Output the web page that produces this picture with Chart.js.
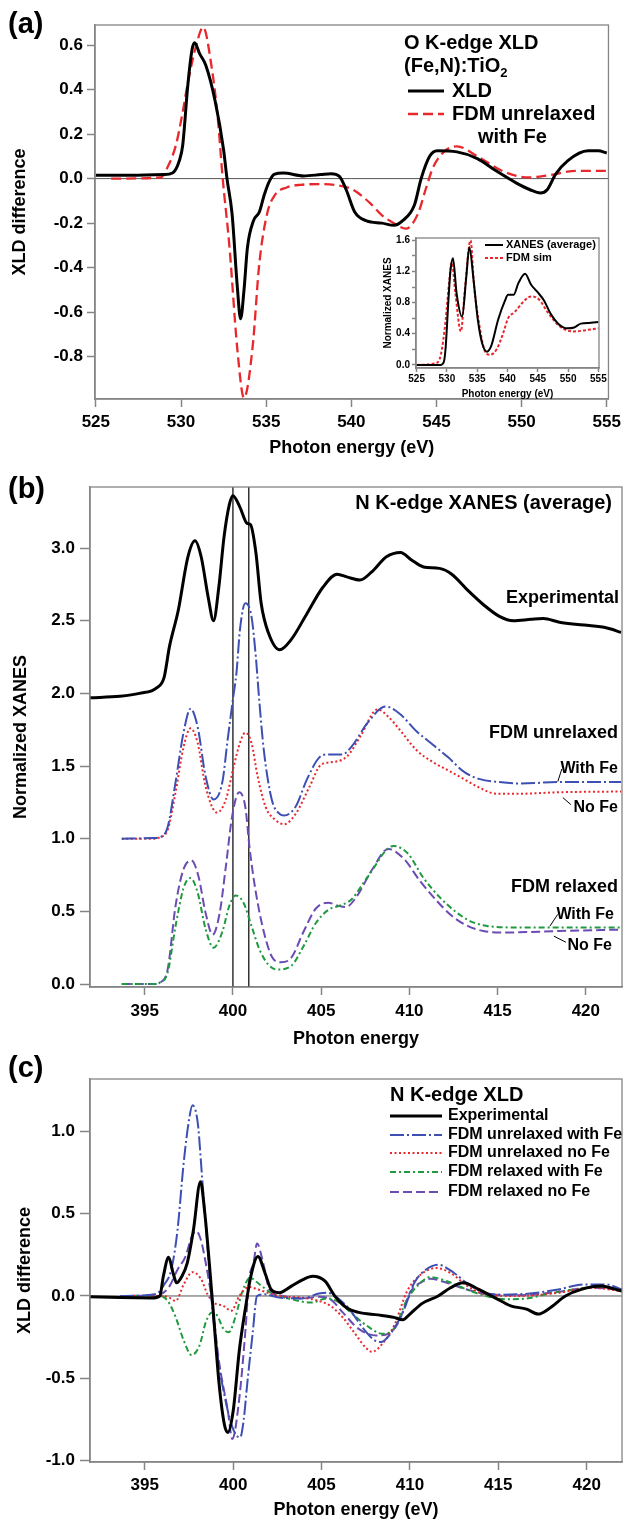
<!DOCTYPE html>
<html><head><meta charset="utf-8">
<script src="https://cdn.jsdelivr.net/npm/chart.js@4.4.1/dist/chart.umd.min.js"></script>
<style>
html,body{margin:0;padding:0;background:#fff;}
body{width:626px;height:1520px;position:relative;overflow:hidden;}
canvas{position:absolute;}
</style></head><body>
<canvas id="ca" width="626" height="465" style="left:0;top:0"></canvas>
<canvas id="ci" width="240" height="175" style="left:370px;top:228px"></canvas>
<canvas id="cb" width="626" height="585" style="left:0;top:465px"></canvas>
<canvas id="cc" width="626" height="470" style="left:0;top:1050px"></canvas>
<script>
// ---------- Panel (a): O K-edge XLD ----------
const aXldEv  = [525.0,527.0,529.0,529.5,529.9,530.1,530.4,530.65,530.8,531.1,531.45,532.0,532.5,532.7,533.0,533.3,533.5,533.7,533.9,534.25,534.6,534.9,535.2,535.5,536.0,537.2,538.2,538.8,539.3,539.7,540.2,540.9,541.8,542.5,543.0,543.7,544.1,544.6,545.05,546.2,547.4,548.5,549.7,550.5,551.1,551.5,552.0,552.7,553.9,554.5,555.0];
const aXldVal = [0.015,0.015,0.018,0.025,0.08,0.15,0.42,0.58,0.61,0.56,0.51,0.35,0.13,0.0,-0.16,-0.48,-0.63,-0.5,-0.31,-0.19,-0.15,-0.07,-0.01,0.02,0.025,0.012,0.018,0.022,0.01,-0.05,-0.15,-0.19,-0.2,-0.21,-0.19,-0.12,0.0,0.1,0.125,0.12,0.09,0.035,-0.02,-0.05,-0.065,-0.05,0.02,0.08,0.125,0.125,0.115];
const aFdmEv  = [525.9,528.8,529.2,529.7,530.1,530.4,530.9,531.3,531.8,532.15,532.45,532.85,533.3,533.7,534.2,534.6,535.05,535.5,536.2,537.0,538.1,539.2,540.1,541.1,541.8,542.5,543.2,543.9,544.4,544.8,545.5,546.2,547.4,549.0,550.4,551.6,553.2,555.0];
const aFdmVal = [0.0,0.005,0.05,0.15,0.3,0.43,0.6,0.68,0.5,0.28,0.0,-0.31,-0.76,-0.985,-0.76,-0.38,-0.16,-0.075,-0.04,-0.028,-0.025,-0.03,-0.05,-0.11,-0.165,-0.2,-0.225,-0.16,-0.04,0.05,0.125,0.145,0.1,0.03,0.005,0.015,0.035,0.035];
// inset: O K-edge XANES
const iXanEv  = [525,529.0,529.5,529.8,530.25,530.6,531.0,531.6,532.5,533.2,533.7,534.4,535.1,535.8,536.6,537.3,538.45,539.6,540.1,541.0,541.8,542.9,543.9,544.9,546.0,547.1,548.5,549.9,551.0,552.1,553.8,555];
const iXanVal = [0,0.0,0.04,0.23,0.83,1.22,1.37,0.92,0.62,1.13,1.51,1.09,0.58,0.28,0.17,0.24,0.58,0.83,0.9,0.9,1.05,1.17,1.03,0.94,0.83,0.66,0.52,0.47,0.48,0.53,0.54,0.55];
const iSimEv  = [525,528.1,529.0,529.8,530.4,530.8,531.4,532.3,533.0,533.9,534.5,535.4,536.2,537.1,538.2,539.3,540.1,541.2,542.6,543.9,545.2,546.6,548.0,549.3,551.0,553.3,555];
const iSimVal = [0,0.02,0.13,0.58,1.09,1.32,0.92,0.43,1.0,1.6,1.0,0.49,0.19,0.13,0.2,0.41,0.6,0.68,0.81,0.88,0.84,0.68,0.54,0.46,0.43,0.45,0.47];

// ---------- Panel (b): N K-edge XANES ----------
const bExpEv  = [391.9,393.6,394.7,395.7,396.1,396.4,396.9,397.45,397.85,398.2,398.6,398.9,399.2,399.5,399.8,400.0,400.4,400.8,401.0,401.3,401.6,402.0,402.65,403.3,404.2,405.1,405.9,406.5,407.2,407.9,408.7,409.5,410.1,410.8,411.7,412.4,413.3,414.2,415.1,415.9,416.9,417.6,418.5,419.9,421.2,422.0];
const bExpVal = [1.97,1.98,2.0,2.04,2.11,2.32,2.57,2.94,3.05,2.94,2.66,2.5,2.73,3.08,3.3,3.36,3.28,3.17,3.16,2.97,2.62,2.42,2.3,2.37,2.55,2.73,2.82,2.8,2.78,2.84,2.94,2.97,2.92,2.87,2.86,2.82,2.71,2.61,2.53,2.5,2.51,2.515,2.49,2.47,2.45,2.42];
const bUnFeEv  = [393.7,395.5,395.85,396.3,396.75,397.2,397.6,398.0,398.45,398.9,399.4,399.7,400.0,400.2,400.4,400.7,401.05,401.3,401.5,401.75,402.2,402.65,402.9,403.55,404.2,404.9,405.4,406.2,406.7,407.65,408.65,409.45,410.4,411.3,412.2,413.1,414.0,415.1,416.3,418.5,422.0];
const bUnFeVal = [1.0,1.005,1.01,1.08,1.39,1.73,1.895,1.77,1.43,1.27,1.39,1.68,1.96,2.14,2.44,2.62,2.53,2.25,1.94,1.61,1.27,1.17,1.16,1.22,1.41,1.56,1.58,1.58,1.63,1.8,1.91,1.86,1.74,1.65,1.56,1.46,1.41,1.39,1.38,1.39,1.39];
const bUnNoEv  = [393.7,395.5,395.85,396.3,396.75,397.2,397.6,398.0,398.45,399.1,399.6,400.05,400.4,400.7,401.05,401.4,401.85,402.4,402.9,403.55,404.35,405.0,405.8,406.5,407.2,408.2,408.8,409.45,410.4,411.3,412.2,413.1,414.0,414.9,416.3,418.5,422.0];
const bUnNoVal = [1.0,1.0,1.01,1.06,1.32,1.63,1.76,1.66,1.36,1.18,1.27,1.5,1.66,1.73,1.66,1.43,1.22,1.13,1.1,1.17,1.36,1.51,1.53,1.57,1.7,1.89,1.84,1.75,1.61,1.53,1.47,1.41,1.35,1.31,1.31,1.32,1.325];
const bReFeEv  = [393.7,395.5,395.85,396.3,396.75,397.2,397.6,398.0,398.45,398.9,399.4,399.8,400.15,400.6,401.05,401.5,402.0,402.5,403.3,404.0,404.7,405.4,406.05,406.7,407.65,409.1,409.9,410.8,411.7,412.6,413.5,414.4,415.8,418.5,422.0];
const bReFeVal = [0,0.0,0.01,0.08,0.4,0.66,0.73,0.63,0.38,0.25,0.36,0.54,0.61,0.56,0.4,0.24,0.135,0.1,0.125,0.26,0.42,0.51,0.54,0.58,0.74,0.95,0.9,0.73,0.6,0.5,0.43,0.4,0.39,0.39,0.39];
const bReNoEv  = [393.7,395.5,395.85,396.3,396.75,397.2,397.65,398.05,398.45,398.85,399.25,399.6,399.95,400.35,400.7,400.95,401.3,401.75,402.2,402.7,403.3,404.0,404.7,405.4,405.95,406.4,407.0,407.9,408.8,409.7,410.6,411.5,412.4,413.3,414.2,415.35,418.5,422.0];
const bReNoVal = [0,0.0,0.01,0.1,0.54,0.79,0.85,0.74,0.49,0.34,0.49,0.81,1.15,1.32,1.22,0.93,0.63,0.36,0.19,0.15,0.18,0.36,0.52,0.56,0.54,0.53,0.6,0.79,0.93,0.86,0.71,0.58,0.47,0.4,0.365,0.355,0.365,0.375];
const bMarkEv = [400.0, 400.9];           // vertical reference lines
// leader lines for the "With Fe" / "No Fe" labels [x0,x1],[y0,y1]
const bLeadUnFeEv = [418.41,418.64], bLeadUnFeVal = [1.393,1.48];
const bLeadUnNoEv = [418.70,419.15], bLeadUnNoVal = [1.283,1.235];
const bLeadReFeEv = [417.96,418.41], bLeadReFeVal = [0.398,0.48];
const bLeadReNoEv = [418.19,418.87], bLeadReNoVal = [0.33,0.288];

// ---------- Panel (c): N K-edge XLD ----------
const cExpEv  = [391.9,393.6,395.4,395.85,396.05,396.35,396.6,396.8,397.1,397.4,397.75,398.15,398.4,398.65,398.9,399.2,399.5,399.7,400.0,400.35,400.7,401.0,401.4,401.8,402.15,402.6,403.3,403.95,404.5,405.2,405.75,406.4,407.1,408.2,409.1,409.6,410.0,410.7,411.6,412.3,413.0,413.9,414.8,415.7,416.6,417.25,417.9,418.8,419.7,420.85,421.5,422.0];
const cExpVal = [-0.005,-0.01,-0.012,0.0,0.12,0.235,0.14,0.08,0.12,0.2,0.4,0.695,0.5,0.2,-0.13,-0.53,-0.78,-0.83,-0.7,-0.33,-0.07,0.12,0.24,0.14,0.04,0.02,0.06,0.1,0.12,0.09,0.0,-0.07,-0.1,-0.115,-0.13,-0.145,-0.11,-0.045,0.0,0.05,0.08,0.04,-0.01,-0.06,-0.08,-0.11,-0.075,0.0,0.04,0.06,0.045,0.03];
const cUnFeEv  = [393.6,395.6,396.1,396.5,396.85,397.2,397.5,397.7,398.0,398.25,398.55,398.8,399.1,399.5,399.9,400.2,400.4,400.6,400.8,401.1,401.35,401.8,402.6,403.9,404.85,405.3,406.0,406.65,407.3,408.0,408.35,408.9,409.6,410.25,410.9,411.6,412.5,413.2,414.1,415.2,416.8,418.4,419.9,421.1,422.0];
const cUnFeVal = [0.0,0.01,0.07,0.16,0.4,0.81,1.07,1.16,1.05,0.71,0.3,-0.045,-0.35,-0.6,-0.78,-0.85,-0.86,-0.75,-0.53,-0.23,0.0,0.01,-0.01,-0.015,0.015,0.02,-0.02,-0.09,-0.19,-0.27,-0.28,-0.23,-0.1,0.08,0.16,0.19,0.14,0.08,0.025,0.008,0.015,0.04,0.07,0.07,0.04];
const cUnNoEv  = [393.6,396.0,396.3,396.75,397.2,397.7,398.2,398.55,398.9,399.45,399.9,400.35,400.9,401.4,402.6,403.9,404.85,405.5,406.2,406.9,407.55,407.85,408.45,409.15,409.8,410.5,411.5,412.3,413.2,414.3,416.1,418.4,420.2,422.0];
const cUnNoVal = [0.0,0.0,-0.005,-0.03,0.07,0.145,0.1,0.01,-0.04,-0.06,-0.09,0.0,0.055,0.04,0.0,-0.01,-0.03,-0.06,-0.13,-0.23,-0.32,-0.34,-0.29,-0.17,0.02,0.12,0.17,0.14,0.065,0.01,0.0,0.02,0.05,0.03];
const cReFeEv  = [393.6,395.85,396.3,396.75,397.2,397.65,398.1,398.45,398.8,399.1,399.45,399.75,400.15,400.5,400.95,401.5,402.2,403.3,404.4,405.3,406.0,406.65,407.55,408.45,409.15,409.8,410.5,411.15,412.1,413.2,414.3,415.4,416.6,417.9,419.3,420.6,422.0];
const cReFeVal = [0.0,0.0,-0.03,-0.13,-0.27,-0.36,-0.3,-0.16,-0.1,-0.12,-0.2,-0.22,-0.12,0.02,0.11,0.07,0.015,-0.02,-0.04,-0.015,-0.04,-0.1,-0.18,-0.23,-0.19,-0.03,0.07,0.115,0.09,0.04,0.0,-0.02,-0.015,0.015,0.04,0.055,0.04];
const cReNoEv  = [393.6,395.85,396.4,396.85,397.3,397.65,397.9,398.15,398.45,398.8,399.2,399.7,399.95,400.35,400.7,400.9,401.15,401.35,401.7,402.05,402.6,403.9,404.85,405.5,406.2,407.1,408.1,408.8,409.4,410.0,410.75,411.15,412.1,413.2,414.5,416.1,418.4,420.2,422.0];
const cReNoVal = [0.0,0.01,0.06,0.16,0.24,0.36,0.395,0.35,0.2,-0.03,-0.4,-0.7,-0.87,-0.62,-0.2,0.1,0.2,0.32,0.2,0.04,0.005,-0.015,-0.005,-0.02,-0.1,-0.2,-0.24,-0.23,-0.15,0.02,0.09,0.105,0.08,0.04,0.01,0.005,0.025,0.05,0.04];

// ---------- styling ----------
const FF = "'Liberation Sans', Arial, Helvetica, sans-serif";
const GRAY = '#858585';
const BLUE = '#3d4fb3', RED = '#e8282c', GREEN = '#1f9a3e', PURPLE = '#6a4cb4';
const D_BLUE = [14,3,2,3], D_RED = [2,2.5], D_GREEN = [6,3,2,3], D_PURPLE = [9,4];
Chart.defaults.font.family = FF;
Chart.defaults.font.weight = 'bold';
Chart.defaults.color = '#000';

function pts(xs, ys){ return xs.map((x,i)=>({x:x, y:ys[i]})); }
function ds(xs, ys, color, width, dash, smooth){
  return {data: pts(xs,ys), borderColor: color, borderWidth: width, borderDash: dash||[],
    pointRadius:0, fill:false, cubicInterpolationMode: smooth===false ? 'default' : 'monotone',
    tension: 0, borderCapStyle:'butt', borderJoinStyle:'round'};
}
const fmt1 = v => (Math.abs(v)<1e-9 ? 0 : v).toFixed(1);
function scaleX(o){
  return {type:'linear', position:'bottom', min:o.min, max:o.max,
    afterFit(s){ s.height = o.h; },
    border:{display:true, color:GRAY, width:1.5},
    grid:{display:true, drawOnChartArea:false, drawTicks:true, tickLength:o.tl, tickColor:GRAY, tickWidth:1.5},
    ticks:{stepSize:o.step, includeBounds:false, autoSkip:false, maxRotation:0, padding:o.pad, color:'#000',
      font:{size:o.fs, weight:'bold'}, callback: v => String(Math.round(v))},
    title:{display:true, text:o.title, color:'#000', font:{size:o.tfs, weight:'bold', lineHeight:1.2}, padding:{top:0,bottom:o.tpad}}
  };
}
function scaleY(o){
  return {type:'linear', position:'left', min:o.min, max:o.max,
    afterFit(s){ s.width = o.w; },
    border:{display:true, color:GRAY, width:1.5},
    grid:{display:true, drawOnChartArea:false, drawTicks:true, tickLength:o.tl, tickColor:GRAY, tickWidth:1.5},
    ticks:{stepSize:o.step, includeBounds:false, autoSkip:false, padding:o.pad, color:'#000',
      font:{size:o.fs, weight:'bold'}, callback: o.cb || fmt1},
    title:{display:true, text:o.title, color:'#000', font:{size:o.tfs, weight:'bold', lineHeight:1.2}, padding:{top:o.tpad,bottom:0}}
  };
}
const framePlugin = {id:'frame', afterDraw(ch){
  const a = ch.chartArea, c = ch.ctx; c.save(); c.strokeStyle = GRAY; c.lineWidth = 1.3;
  c.strokeRect(a.left, a.top, a.right-a.left, a.bottom-a.top); c.restore(); }};
function txt(c, s, x, y, size, align){
  c.font = 'bold ' + size + 'px ' + FF; c.textAlign = align || 'left'; c.textBaseline = 'middle'; c.fillStyle = '#000';
  c.fillText(s, x, y);
}
function seg(c, x0, x1, y, color, w, dash){
  c.save(); c.strokeStyle = color; c.lineWidth = w; c.setLineDash(dash||[]);
  c.beginPath(); c.moveTo(x0, y); c.lineTo(x1, y); c.stroke(); c.restore();
}
function base(extra){
  return Object.assign({responsive:false, animation:false, devicePixelRatio:1,
    plugins:{legend:{display:false}, tooltip:{enabled:false}},
    elements:{point:{radius:0}}}, extra);
}

// ---------- chart (a) ----------
new Chart(document.getElementById('ca'), {
  type:'line',
  data:{datasets:[
    ds(aXldEv, aXldVal, '#000', 3, []),
    ds(aFdmEv, aFdmVal, RED, 2.3, [10,5]),
    ds([524.95,555.1],[0,0], '#555', 1, [], false)
  ]},
  options: base({
    layout:{padding:{top:25, right:15, left:0, bottom:0}},
    scales:{
      x: scaleX({min:524.95, max:555.1, h:66, step:5, tl:8, pad:5, fs:17, title:'Photon energy (eV)', tfs:18, tpad:6}),
      y: scaleY({min:-0.99, max:0.69, w:95, step:0.2, tl:8, pad:4, fs:17, title:'XLD difference', tfs:18, tpad:9})
    }
  }),
  plugins:[framePlugin, {id:'annA', afterDraw(ch){
    const c = ch.ctx; c.save();
    txt(c, '(a)', 8, 25, 29);
    txt(c, 'O K-edge XLD', 404, 43, 20);
    txt(c, '(Fe,N):TiO', 404, 66, 20);
    c.font = 'bold 20px ' + FF; const w = c.measureText('(Fe,N):TiO').width;
    txt(c, '2', 404 + w, 73, 13);
    seg(c, 408, 444, 91, '#000', 3);
    txt(c, 'XLD', 452, 91, 20);
    seg(c, 408, 444, 114, RED, 2.3, [10,5]);
    txt(c, 'FDM unrelaxed', 452, 114, 20);
    txt(c, 'with Fe', 478, 137, 20);
    c.restore();
  }}]
});

// ---------- inset ----------
new Chart(document.getElementById('ci'), {
  type:'line',
  data:{datasets:[
    ds(iXanEv, iXanVal, '#000', 2, []),
    ds(iSimEv, iSimVal, RED, 2, [3,2])
  ]},
  options: base({
    layout:{padding:{top:10, right:11, left:0, bottom:0}},
    scales:{
      x: scaleX({min:524.9, max:555.1, h:35, step:5, tl:4, pad:1, fs:10, title:'Photon energy (eV)', tfs:10, tpad:3}),
      y: scaleY({min:-0.04, max:1.63, w:46, step:0.2, tl:4, pad:2, fs:10, title:'Normalized XANES', tfs:10, tpad:12,
        cb: v => (Math.abs(v/0.4 - Math.round(v/0.4)) < 1e-6 ? fmt1(v) : '')})
    }
  }),
  plugins:[{id:'bg', beforeDraw(ch){ const a = ch.chartArea, c = ch.ctx; c.save(); c.fillStyle = '#fff';
      c.fillRect(a.left, a.top, a.right-a.left, a.bottom-a.top); c.restore(); }},
    framePlugin, {id:'annI', afterDraw(ch){
    const c = ch.ctx; c.save();
    seg(c, 115, 133, 17, '#000', 2);
    txt(c, 'XANES (average)', 136, 17, 11);
    seg(c, 115, 133, 30, RED, 2, [3,2]);
    txt(c, 'FDM sim', 136, 30, 11);
    c.restore();
  }}]
});

// ---------- chart (b) ----------
const leadStyle = (xs, ys) => ds(xs, ys, '#000', 1, [], false);
new Chart(document.getElementById('cb'), {
  type:'line',
  data:{datasets:[
    ds(bExpEv, bExpVal, '#000', 3, []),
    ds(bUnFeEv, bUnFeVal, BLUE, 2, D_BLUE),
    ds(bUnNoEv, bUnNoVal, RED, 2, D_RED),
    ds(bReFeEv, bReFeVal, GREEN, 2, D_GREEN),
    ds(bReNoEv, bReNoVal, PURPLE, 2, D_PURPLE),
    ds([bMarkEv[0], bMarkEv[0]], [-0.02, 3.42], '#000', 1.2, [], false),
    ds([bMarkEv[1], bMarkEv[1]], [-0.02, 3.42], '#000', 1.2, [], false),
    leadStyle(bLeadUnFeEv, bLeadUnFeVal),
    leadStyle(bLeadUnNoEv, bLeadUnNoVal),
    leadStyle(bLeadReFeEv, bLeadReFeVal),
    leadStyle(bLeadReNoEv, bLeadReNoVal)
  ]},
  options: base({
    layout:{padding:{top:22, right:4, left:0, bottom:0}},
    scales:{
      x: scaleX({min:391.9, max:422.05, h:63, step:5, tl:8, pad:6, fs:17, title:'Photon energy', tfs:18, tpad:0}),
      y: scaleY({min:-0.02, max:3.42, w:90, step:0.5, tl:10, pad:5, fs:17, title:'Normalized XANES', tfs:18, tpad:10})
    }
  }),
  plugins:[framePlugin, {id:'annB', afterDraw(ch){
    const c = ch.ctx; c.save();
    txt(c, '(b)', 8, 25, 29);
    txt(c, 'N K-edge XANES (average)', 612, 38, 20, 'right');
    txt(c, 'Experimental', 619, 133, 18, 'right');
    txt(c, 'FDM unrelaxed', 618, 268, 18, 'right');
    txt(c, 'With Fe', 618, 304, 16, 'right');
    txt(c, 'No Fe', 618, 343, 16, 'right');
    txt(c, 'FDM relaxed', 618, 422, 18, 'right');
    txt(c, 'With Fe', 614, 450, 16, 'right');
    txt(c, 'No Fe', 612, 481, 16, 'right');
    c.restore();
  }}]
});

// ---------- chart (c) ----------
new Chart(document.getElementById('cc'), {
  type:'line',
  data:{datasets:[
    ds(cExpEv, cExpVal, '#000', 3, []),
    ds(cUnFeEv, cUnFeVal, BLUE, 2, D_BLUE),
    ds(cUnNoEv, cUnNoVal, RED, 2, D_RED),
    ds(cReFeEv, cReFeVal, GREEN, 2, D_GREEN),
    ds(cReNoEv, cReNoVal, PURPLE, 2, D_PURPLE),
    ds([391.9, 422.0], [0, 0], '#555', 1, [], false)
  ]},
  options: base({
    layout:{padding:{top:29, right:4, left:0, bottom:0}},
    scales:{
      x: scaleX({min:391.9, max:422.0, h:58, step:5, tl:8, pad:5, fs:17, title:'Photon energy (eV)', tfs:18, tpad:-1}),
      y: scaleY({min:-1.01, max:1.32, w:90, step:0.5, tl:10, pad:5, fs:17, title:'XLD difference', tfs:18, tpad:14})
    }
  }),
  plugins:[framePlugin, {id:'annC', afterDraw(ch){
    const c = ch.ctx; c.save();
    txt(c, '(c)', 8, 19, 29);
    txt(c, 'N K-edge XLD', 390, 45, 20);
    const rows = [['Experimental','#000',3,[]],['FDM unrelaxed with Fe',BLUE,2,D_BLUE],['FDM unrelaxed no Fe',RED,2,D_RED],
                  ['FDM relaxed with Fe',GREEN,2,D_GREEN],['FDM relaxed no Fe',PURPLE,2,D_PURPLE]];
    const ys = [66, 85, 103, 122, 142];
    rows.forEach((r,i) => { seg(c, 390, 442, ys[i], r[1], r[2], r[3]); txt(c, r[0], 448, ys[i], 16); });
    c.restore();
  }}]
});
</script>
</body></html>
